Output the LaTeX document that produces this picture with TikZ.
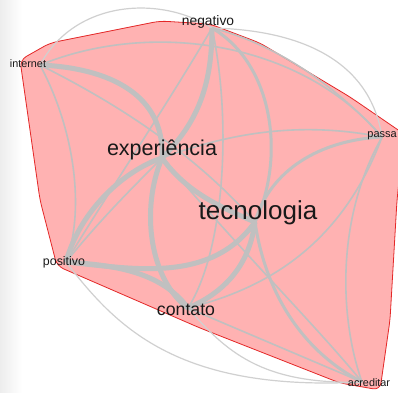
\documentclass[tikz,border=0pt]{standalone}
\usepackage{fontspec}
\setmainfont{Liberation Sans}
\definecolor{hullfill}{RGB}{255,178,178}
\definecolor{hullline}{RGB}{228,40,40}
\definecolor{edgegrey}{RGB}{192,192,192}
\definecolor{outgrey}{RGB}{208,208,208}
\definecolor{labelink}{RGB}{25,25,25}
\tikzset{
  hull/.style={fill=hullfill, draw=hullline, line width=0.8pt, rounded corners=7pt},
  heavy/.style={draw=edgegrey, line width=5pt},
  medium/.style={draw=edgegrey, line width=3pt},
  light/.style={draw=edgegrey, line width=1.6pt},
  outer/.style={draw=outgrey, line width=1.2pt},
  word/.style={inner sep=0pt, text=labelink},
}
\newcommand{\fs}[1]{\fontsize{#1}{#1}\selectfont}
\begin{document}
\begin{tikzpicture}[x=1pt,y=-1pt]
\useasboundingbox (0,0) rectangle (398,392);
\fill[white] (0,0) rectangle (398,392);
\shade[left color=gray!14, right color=white] (0,0) rectangle (22,392);

% vertex positions
\coordinate (vN) at (212,28);
\coordinate (vI) at (40,65);
\coordinate (vP) at (382,137);
\coordinate (vE) at (162,158);
\coordinate (vT) at (255,222);
\coordinate (vPo) at (66,262);
\coordinate (vC) at (188,308);
\coordinate (vA) at (362,382);

% group hull
\path[hull] (20,60) -- (50,43) -- (160,21) -- (210,24) -- (260,43) -- (300,67)
  -- (350,97) -- (404,134) -- (397,200) -- (390,320) -- (380,390) -- (340,383)
  -- (200,328) -- (57,266) -- (40,200) -- cycle;

% edges running outside the hull
\draw[outer] (vI) .. controls (75,0) and (160,-5) .. (vN);
\draw[outer] (vN) .. controls (300,30) and (370,60) .. (vP);
\draw[outer] (vPo) .. controls (115,325) and (175,392) .. (vA);
\draw[outer] (vC) .. controls (225,350) and (260,385) .. (vA);

% thin edges
\draw[light] (vI) .. controls (150,20) and (300,40) .. (vP);
\draw[light] (vN) .. controls (280,45) and (340,90) .. (vP);
\draw[light] (vI) .. controls (75,130) and (85,210) .. (vPo);
\draw[light] (vI) .. controls (130,110) and (200,160) .. (vT);
\draw[light] (vN) .. controls (232,120) and (225,250) .. (vC);
\draw[light] (vE) .. controls (250,125) and (320,125) .. (vP);
\draw[light] (vP) .. controls (335,220) and (340,320) .. (vA);
\draw[light] (vP) .. controls (340,250) and (260,290) .. (vC);
\draw[light] (vC) -- (vA);
\draw[light] (vPo) .. controls (110,190) and (170,100) .. (vN);
\draw[light] (vPo) .. controls (100,220) and (130,190) .. (vE);
\draw[light] (vE) .. controls (240,250) and (320,330) .. (vA);

% medium edges
\draw[medium] (vN) .. controls (275,65) and (285,160) .. (vT);
\draw[medium] (vT) .. controls (265,290) and (300,350) .. (vA);
\draw[medium] (vT) .. controls (270,170) and (320,140) .. (vP);

% heavy edges
\draw[heavy] (vI) .. controls (110,68) and (165,95) .. (vE);
\draw[heavy] (vN) .. controls (212,90) and (195,125) .. (vE);
\draw[heavy] (vE) .. controls (185,190) and (215,205) .. (vT);
\draw[heavy] (vE) .. controls (125,170) and (80,210) .. (vPo);
\draw[heavy] (vE) .. controls (140,210) and (150,280) .. (vC);
\draw[heavy] (vT) .. controls (210,285) and (130,268) .. (vPo);
\draw[heavy] (vPo) .. controls (110,265) and (160,270) .. (vC);
\draw[heavy] (vT) .. controls (250,260) and (230,290) .. (vC);

% labels
\node[word, font=\fs{13.8}] (lN) at (208,22) {negativo};
\node[word, font=\fs{10.8}] (lI) at (28,64) {internet};
\node[word, font=\fs{11}, anchor=east] (lP) at (397,136) {passa};
\node[word, font=\fs{21.5}] (lE) at (162,150) {experiência};
\node[word, font=\fs{26}] (lT) at (258,213) {tecnologia};
\node[word, font=\fs{12.4}] (lPo) at (64,262) {positivo};
\node[word, font=\fs{17.7}] (lC) at (186,310) {contato};
\node[word, font=\fs{10.8}] (lA) at (369,383) {acreditar};
\end{tikzpicture}
\end{document}
